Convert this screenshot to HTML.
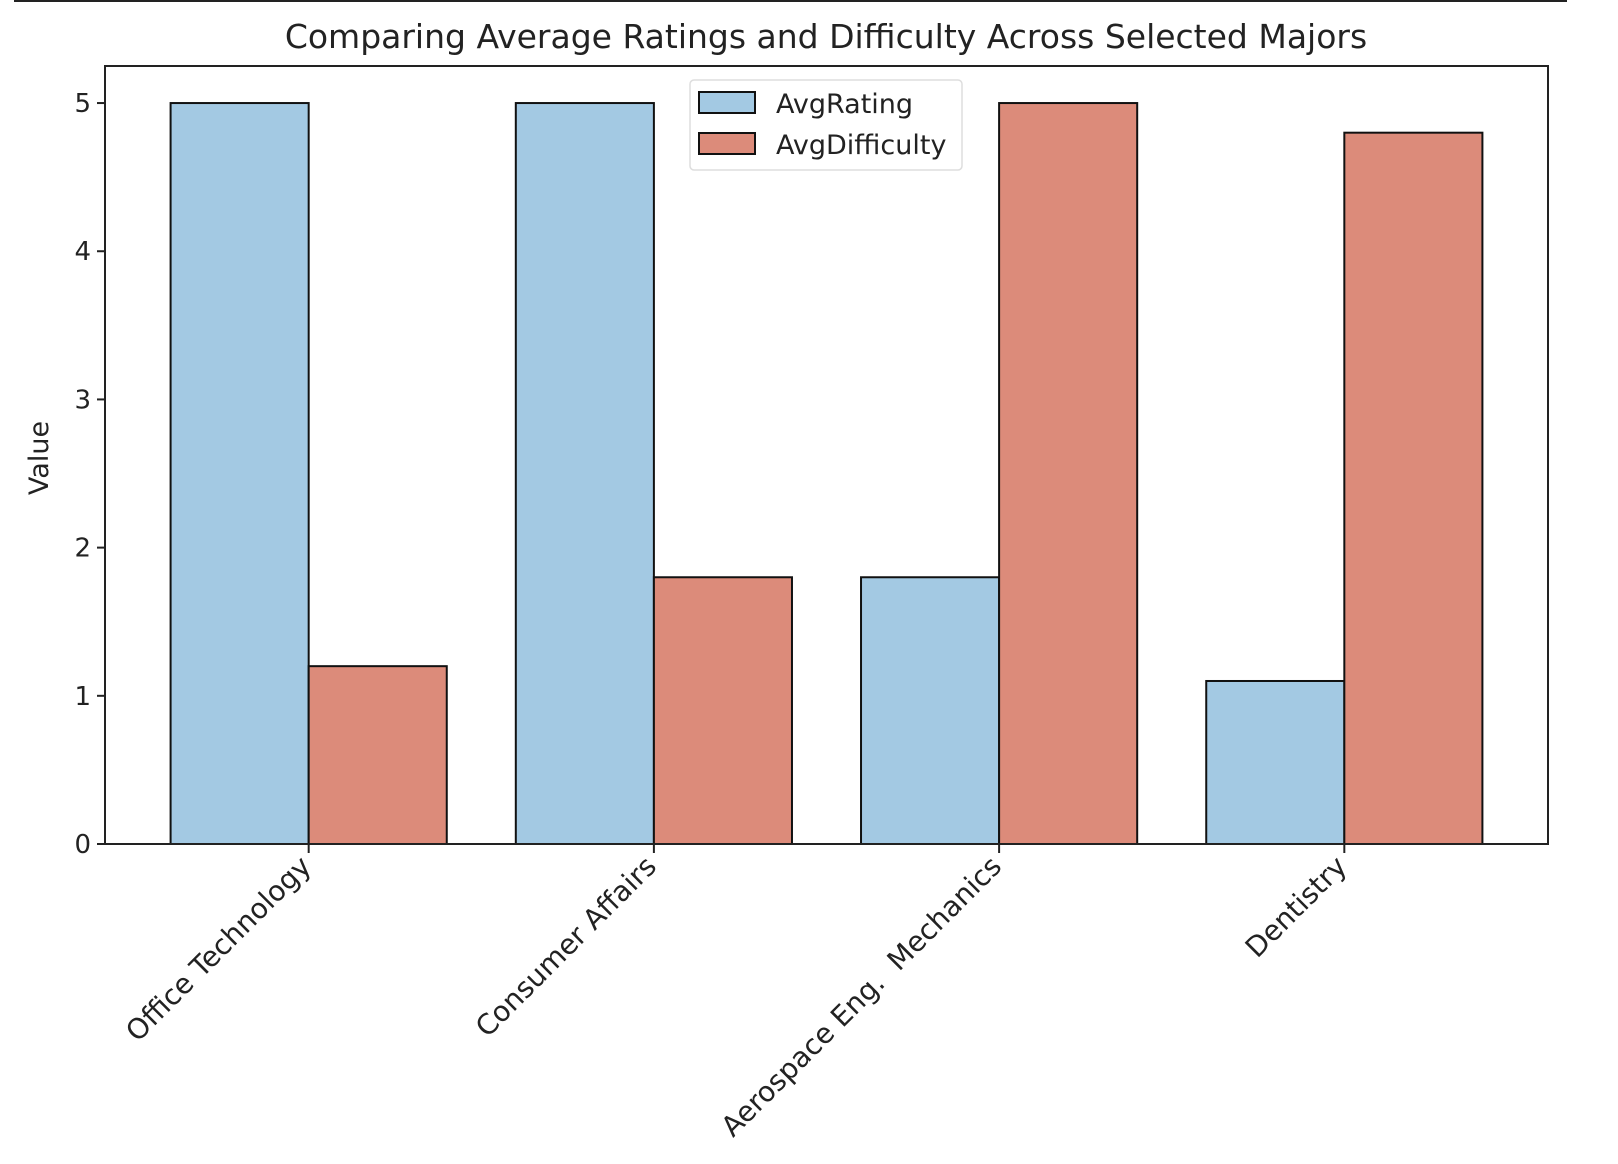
<!DOCTYPE html>
<html><head><meta charset="utf-8"><style>
html,body{margin:0;padding:0;background:#fff;}
svg{display:block;font-family:"DejaVu Sans","Liberation Sans",sans-serif;}
text{white-space:pre;}
</style></head><body>
<svg id="chart" width="1618" height="1164" viewBox="0 0 1618 1164" xmlns="http://www.w3.org/2000/svg">
<line x1="14" y1="1" x2="1567" y2="1" stroke="#222" stroke-width="2"/>
<text x="826" y="48" font-size="33" text-anchor="middle" fill="#222">Comparing Average Ratings and Difficulty Across Selected Majors</text>
<text transform="translate(48,458) rotate(-90)" font-size="27" text-anchor="middle" fill="#222">Value</text>
<g id="bars"></g>
<g id="yticks"></g>
<g id="xticks"></g>
<rect x="105" y="66" width="1443" height="778" fill="none" stroke="#222" stroke-width="2"/>
<g>
<rect x="690" y="80" width="272" height="90" rx="4" fill="#fff" fill-opacity="0.85" stroke="#ddd" stroke-width="1.5"/>
<rect x="699" y="92" width="56" height="21" fill="#a3c9e3" stroke="#111" stroke-width="2"/>
<text x="776" y="113" font-size="27" fill="#222">AvgRating</text>
<rect x="699" y="133" width="56" height="21" fill="#dc8b7a" stroke="#111" stroke-width="2"/>
<text x="776" y="154" font-size="27" fill="#222">AvgDifficulty</text>
</g>
</svg>
<script>
const categories = ["Office Technology", "Consumer Affairs", "Aerospace Eng.  Mechanics", "Dentistry"];
const avgRating = [5.0, 5.0, 1.8, 1.1];
const avgDifficulty = [1.2, 1.8, 5.0, 4.8];
const yTicks = [0, 1, 2, 3, 4, 5];

const NS = "http://www.w3.org/2000/svg";
const L = 105, R = 1548, T = 66, B = 844;
const xMin = -0.59, xMax = 3.59, yMin = 0, yMax = 5.25;
function xs(v){ return L + (v - xMin) / (xMax - xMin) * (R - L); }
function ys(v){ return B - (v - yMin) / (yMax - yMin) * (B - T); }
function mk(tag, attrs, parent){ const e = document.createElementNS(NS, tag); for (const k in attrs) e.setAttribute(k, attrs[k]); parent.appendChild(e); return e; }

const bars = document.getElementById('bars');
const w = 0.4;
categories.forEach((c, i) => {
  const slug = c.toLowerCase().replace(/[^a-z]+/g, '-');
  const r1 = mk('rect', {x: xs(i - w), y: ys(avgRating[i]), width: xs(i) - xs(i - w), height: ys(0) - ys(avgRating[i]), fill: '#a3c9e3', stroke: '#111', 'stroke-width': 2}, bars);
  
  
  const r2 = mk('rect', {x: xs(i), y: ys(avgDifficulty[i]), width: xs(i + w) - xs(i), height: ys(0) - ys(avgDifficulty[i]), fill: '#dc8b7a', stroke: '#111', 'stroke-width': 2}, bars);
  
  
});

const yt = document.getElementById('yticks');
yTicks.forEach(t => {
  const ln = mk('line', {x1: L - 8, x2: L, y1: ys(t), y2: ys(t), stroke: '#222', 'stroke-width': 2}, yt);
  
  
  const tx = mk('text', {x: L - 14, y: ys(t) + 9, 'font-size': 26, 'text-anchor': 'end', fill: '#222'}, yt);
  tx.textContent = String(t);
  
  
});

const xt = document.getElementById('xticks');
categories.forEach((c, i) => {
  const x = xs(i);
  const ln = mk('line', {x1: x, x2: x, y1: B, y2: B + 9, stroke: '#222', 'stroke-width': 2}, xt);
  
  
  const tx = mk('text', {x: 0, y: 0, 'font-size': 28, 'text-anchor': 'end', fill: '#222', transform: 'translate(' + (x + 4) + ',' + (B + 24) + ') rotate(-45)'}, xt);
  tx.textContent = c;
  
  
});
</script>
</body></html>
